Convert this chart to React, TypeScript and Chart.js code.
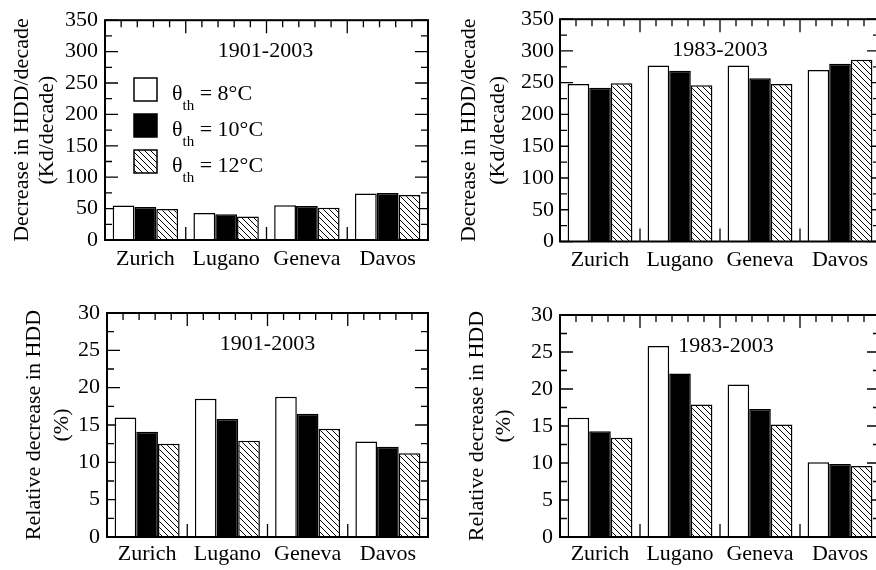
import React, { useEffect, useRef } from 'react';
import { Chart, registerables } from 'chart.js';

Chart.register(...registerables);

const FONT = '"Liberation Serif", "Times New Roman", serif';

// ---- data ----
const categories = ['Zurich', 'Lugano', 'Geneva', 'Davos'];
const thresholds = ['8', '10', '12'];

// Decrease in HDD per decade (Kd/decade), 1901-2003
const abs1901_t8 = [55, 43, 55.5, 74];
const abs1901_t10 = [52.5, 41, 54, 75];
const abs1901_t12 = [49.5, 37.5, 51.5, 71.5];

// Decrease in HDD per decade (Kd/decade), 1983-2003
const abs1983_t8 = [248, 277, 277, 270];
const abs1983_t10 = [242, 269, 257, 280];
const abs1983_t12 = [249, 246, 248, 286];

// Relative decrease in HDD (%), 1901-2003
const rel1901_t8 = [16.0, 18.5, 18.8, 12.8];
const rel1901_t10 = [14.1, 15.8, 16.5, 12.1];
const rel1901_t12 = [12.5, 12.9, 14.5, 11.2];

// Relative decrease in HDD (%), 1983-2003
const rel1983_t8 = [16.1, 25.8, 20.6, 10.1];
const rel1983_t10 = [14.3, 22.1, 17.3, 9.85];
const rel1983_t12 = [13.4, 17.9, 15.2, 9.6];

const absTitle = ['Decrease in HDD/decade', '(Kd/decade)'];
const relTitle = ['Relative decrease in HDD', '(%)'];

interface PanelCfg {
  left: number; top: number; width: number; height: number;
  yMax: number; yStep: number;
  yTitle: string[]; titleLH: number; titlePad: number;
  yAxisWidth: number; xAxisHeight: number; padTop: number; padRight: number;
  xLabelPad: number; yLabelPad: number;
  period: string; periodDx: number;
  values: number[][]; legend: boolean;
}

const panels: PanelCfg[] = [
  {
    left: 0, top: 0, width: 436, height: 285, yMax: 350, yStep: 50,
    yTitle: absTitle, titleLH: 1.14, titlePad: 9.5,
    yAxisWidth: 105, xAxisHeight: 45, padTop: 16, padRight: 8, xLabelPad: 6, yLabelPad: 7,
    period: '1901-2003', periodDx: -1,
    values: [abs1901_t8, abs1901_t10, abs1901_t12], legend: true,
  },
  {
    left: 436, top: 0, width: 444, height: 285, yMax: 350, yStep: 50,
    yTitle: absTitle, titleLH: 1.32, titlePad: 18.5,
    yAxisWidth: 124, xAxisHeight: 43.5, padTop: 17, padRight: 0, xLabelPad: 6, yLabelPad: 6,
    period: '1983-2003', periodDx: 0,
    values: [abs1983_t8, abs1983_t10, abs1983_t12], legend: false,
  },
  {
    left: 0, top: 290, width: 436, height: 280, yMax: 30, yStep: 5,
    yTitle: relTitle, titleLH: 1.27, titlePad: 20,
    yAxisWidth: 107, xAxisHeight: 33, padTop: 23, padRight: 8, xLabelPad: 4, yLabelPad: 7,
    period: '1901-2003', periodDx: 0,
    values: [rel1901_t8, rel1901_t10, rel1901_t12], legend: false,
  },
  {
    left: 436, top: 290, width: 444, height: 280, yMax: 30, yStep: 5,
    yTitle: relTitle, titleLH: 1.23, titlePad: 27.5,
    yAxisWidth: 124, xAxisHeight: 33, padTop: 25, padRight: 0, xLabelPad: 4, yLabelPad: 7,
    period: '1983-2003', periodDx: 6,
    values: [rel1983_t8, rel1983_t10, rel1983_t12], legend: false,
  },
];

function makeHatch(): CanvasPattern | string {
  const s = 6;
  const c = document.createElement('canvas');
  c.width = s; c.height = s;
  const g = c.getContext('2d');
  if (!g) return '#888';
  g.fillStyle = '#fff';
  g.fillRect(0, 0, s, s);
  g.strokeStyle = '#000';
  g.lineWidth = 1;
  g.beginPath();
  g.moveTo(-1, -1); g.lineTo(s + 1, s + 1);
  g.moveTo(-1, s - 1); g.lineTo(1, s + 1);
  g.moveTo(s - 1, -1); g.lineTo(s + 1, 1);
  g.stroke();
  return g.createPattern(c, 'repeat') || '#888';
}

const framePlugin = {
  id: 'frame',
  beforeDatasetsDraw(chart: any, _args: any, opts: any) {
    const { ctx, chartArea } = chart;
    const { left, right, top, bottom } = chartArea;
    const xs = chart.scales.x;
    const ys = chart.scales.y;
    ctx.save();
    ctx.strokeStyle = '#000';
    ctx.lineWidth = 1.3;
    ctx.beginPath();
    const n = chart.data.labels.length;
    const w = (xs.right - xs.left) / n;
    for (let k = 0; k <= n * 5; k++) {
      const px = xs.left + (k * w) / 5;
      const len = k % 5 === 0 ? 13 : 7;
      ctx.moveTo(px, top); ctx.lineTo(px, top + len);
      ctx.moveTo(px, bottom); ctx.lineTo(px, bottom - len);
    }
    const step = opts.yStep as number;
    const max = opts.yMax as number;
    for (let i = 0; i <= (max / step) * 2; i++) {
      const v = (i * step) / 2;
      const py = ys.getPixelForValue(v);
      const len = i % 2 === 0 ? 13 : 7;
      ctx.moveTo(left, py); ctx.lineTo(left + len, py);
      ctx.moveTo(right, py); ctx.lineTo(right - len, py);
    }
    ctx.stroke();
    ctx.restore();
  },
  afterDatasetsDraw(chart: any, _args: any, opts: any) {
    const { ctx, chartArea } = chart;
    const { left, right, top, bottom } = chartArea;
    ctx.save();
    ctx.strokeStyle = '#000';
    ctx.lineWidth = 2;
    ctx.strokeRect(left, top, right - left, bottom - top);

    ctx.fillStyle = '#000';
    ctx.font = `22px ${FONT}`;
    ctx.textAlign = 'center';
    ctx.textBaseline = 'alphabetic';
    ctx.fillText(opts.period, (left + right) / 2 + (opts.periodDx || 0), top + 37);

    if (opts.legend) {
      const lx = 134;
      const ly = 78;
      const box = 23;
      const fills = chart.data.datasets.map((d: any) => d.backgroundColor);
      ctx.textAlign = 'left';
      for (let i = 0; i < fills.length; i++) {
        const by = ly + i * 36;
        ctx.fillStyle = fills[i];
        ctx.fillRect(lx, by, box, box);
        ctx.lineWidth = 1.5;
        ctx.strokeStyle = '#000';
        ctx.strokeRect(lx, by, box, box);
        ctx.fillStyle = '#000';
        let tx = lx + 38;
        ctx.font = `22px ${FONT}`;
        ctx.fillText('θ', tx, by + 22);
        tx += ctx.measureText('θ').width;
        ctx.font = `15px ${FONT}`;
        ctx.fillText('th', tx, by + 32);
        tx += ctx.measureText('th').width;
        ctx.font = `22px ${FONT}`;
        ctx.fillText(` = ${thresholds[i]}°C`, tx, by + 22);
      }
    }
    ctx.restore();
  },
};

function Panel({ cfg }: { cfg: PanelCfg }) {
  const ref = useRef<HTMLCanvasElement | null>(null);
  useEffect(() => {
    if (!ref.current) return;
    const hatch = makeHatch();
    const fills = ['#ffffff', '#000000', hatch];
    const chart = new Chart(ref.current, {
      type: 'bar',
      data: {
        labels: categories,
        datasets: cfg.values.map((vals, i) => ({
          label: `θth = ${thresholds[i]}°C`,
          data: vals,
          backgroundColor: fills[i] as any,
          borderColor: '#000',
          borderWidth: 1.5,
          categoryPercentage: 0.81,
          barPercentage: 1,
        })),
      },
      options: {
        responsive: false,
        animation: false,
        devicePixelRatio: 1,
        layout: { padding: { top: cfg.padTop, right: cfg.padRight, bottom: 0, left: 0 } },
        plugins: {
          legend: { display: false },
          tooltip: { enabled: false },
          frame: { yStep: cfg.yStep, yMax: cfg.yMax, period: cfg.period, periodDx: cfg.periodDx, legend: cfg.legend },
        } as any,
        scales: {
          x: {
            grid: { display: false, drawTicks: false },
            border: { display: false },
            ticks: {
              font: { family: FONT, size: 22 },
              color: '#000',
              padding: cfg.xLabelPad,
              maxRotation: 0,
              autoSkip: false,
            },
            afterFit: (s: any) => { s.height = cfg.xAxisHeight; },
          },
          y: {
            min: 0,
            max: cfg.yMax,
            grid: { display: false, drawTicks: false },
            border: { display: false },
            ticks: {
              stepSize: cfg.yStep,
              font: { family: FONT, size: 22 },
              color: '#000',
              padding: cfg.yLabelPad,
            },
            title: {
              display: true,
              text: cfg.yTitle,
              font: { family: FONT, size: 22, lineHeight: cfg.titleLH },
              color: '#000',
              padding: { top: cfg.titlePad, bottom: 0 },
            },
            afterFit: (s: any) => { s.width = cfg.yAxisWidth; },
          },
        },
      },
      plugins: [framePlugin as any],
    });
    return () => chart.destroy();
  }, [cfg]);
  return (
    <canvas
      ref={ref}
      width={cfg.width}
      height={cfg.height}
      style={{ position: 'absolute', left: cfg.left, top: cfg.top, width: cfg.width, height: cfg.height }}
    />
  );
}

export default function App() {
  return (
    <div style={{ position: 'absolute', left: 0, top: 0, width: 876, height: 570, overflow: 'hidden', background: '#fff' }}>
      {panels.map((p, i) => (
        <Panel key={i} cfg={p} />
      ))}
    </div>
  );
}
